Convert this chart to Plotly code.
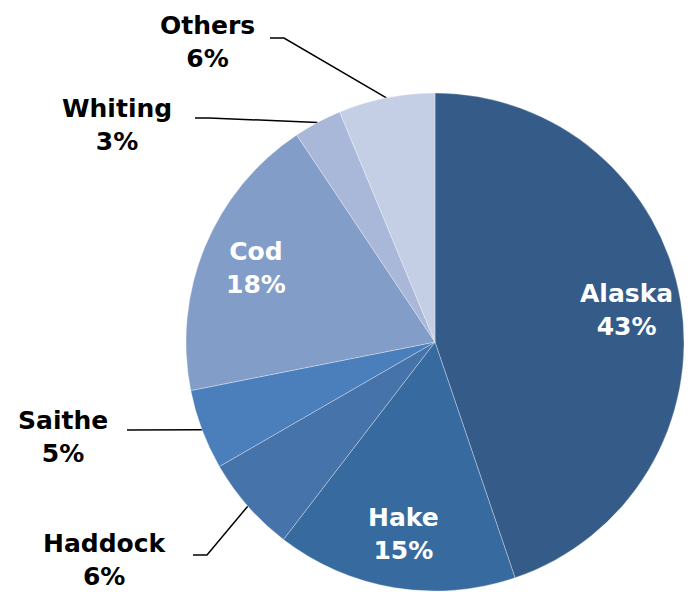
import math
import plotly.graph_objects as go

# Whitefish supply shares (%), clockwise from 12 o'clock
species = ["Alaska", "Hake", "Haddock", "Saithe", "Cod", "Whiting", "Others"]
shares = [43, 15, 6, 5, 18, 3, 6]
colors = ["#355B89", "#376BA0", "#4573AA", "#4A7FBC", "#829DC8", "#A9B8D8", "#C4CEE4"]
inside = ["Alaska", "Hake", "Cod"]

W, H = 696, 592
CX, CY, R = 435, 342, 249          # pie centre and radius in pixels
LABEL_R = 0.78                     # radial position of in-slice labels

FONT = "DejaVu Sans"
FSIZE = 25

fig = go.Figure()
fig.add_trace(go.Pie(
    labels=species, values=shares, sort=False, direction="clockwise", rotation=0,
    marker=dict(colors=colors, line=dict(color="rgba(255,255,255,0.45)", width=0.7)),
    textinfo="none", textposition="none",
    domain=dict(x=[(CX - R) / W, (CX + R) / W],
                y=[max(0, (H - CY - R) / H), min(1, (H - CY + R) / H)]),
    showlegend=False, hoverinfo="label+percent",
))

# callout label centres and leader start points for the small slices
callouts = {
    "Others": ((207, 42), (270, 38)),
    "Whiting": ((117, 125), (195, 118)),
    "Saithe": ((63, 437), (127, 430)),
    "Haddock": ((105, 560), (193, 555)),
}
ELBOW = 14

total = sum(shares)
cum = 0
annotations = []
for s, v in zip(species, shares):
    mid = (cum + v / 2) / total * 2 * math.pi
    cum += v
    text = f"<b>{s}<br>{v}%</b>"
    if s in inside:
        annotations.append(dict(
            x=CX + LABEL_R * R * math.sin(mid), y=CY - LABEL_R * R * math.cos(mid),
            xref="x", yref="y", text=text, showarrow=False, align="center",
            font=dict(family=FONT, size=FSIZE, color="white"),
        ))
        continue
    (tx, ty), (sx, sy) = callouts[s]
    tip_x = CX + R * math.sin(mid)
    tip_y = CY - R * math.cos(mid)
    fig.add_trace(go.Scatter(
        x=[sx, sx + ELBOW, tip_x], y=[sy, sy, tip_y], mode="lines",
        line=dict(color="black", width=1.5), showlegend=False, hoverinfo="skip",
    ))
    annotations.append(dict(
        x=tx, y=ty, xref="x", yref="y", text=text, showarrow=False, align="center",
        font=dict(family=FONT, size=FSIZE, color="black"),
    ))

fig.update_layout(
    width=W, height=H, margin=dict(l=0, r=0, t=0, b=0),
    paper_bgcolor="white", plot_bgcolor="rgba(0,0,0,0)",
    xaxis=dict(range=[0, W], visible=False, fixedrange=True),
    yaxis=dict(range=[H, 0], visible=False, fixedrange=True),
    annotations=annotations,
)

fig.write_html("out.html")
